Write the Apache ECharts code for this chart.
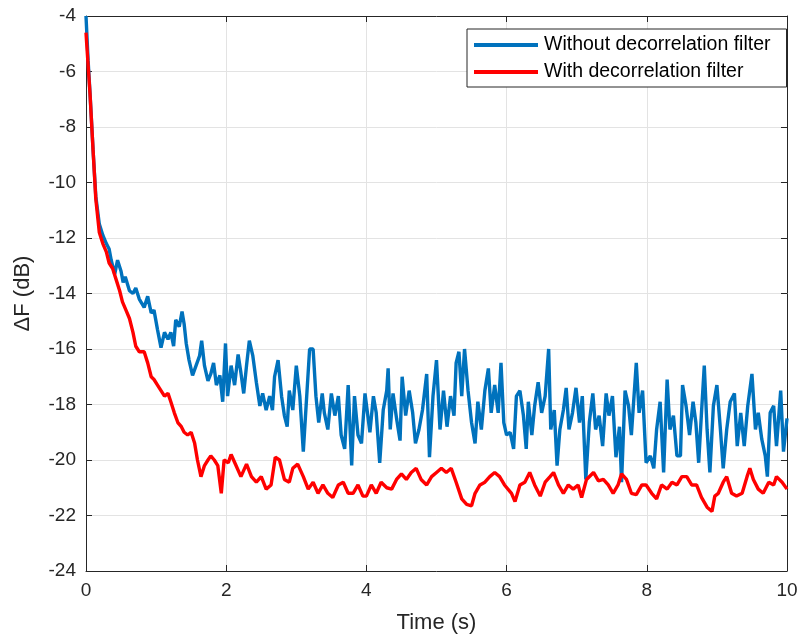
<!DOCTYPE html>
<html>
<head>
<meta charset="utf-8">
<script src="https://cdn.jsdelivr.net/npm/echarts@6/dist/echarts.min.js"></script>
<style>
html,body{margin:0;padding:0;background:#fff;}
#chart{width:802px;height:639px;}
</style>
</head>
<body>
<div id="chart"></div>
<script>
var seriesNames = ['Without decorrelation filter', 'With decorrelation filter'];
var xTicks = [0, 2, 4, 6, 8, 10];
var yTicks = [-24, -22, -20, -18, -16, -14, -12, -10, -8, -6, -4];

var blueT = [0,0.03,0.06,0.1,0.14,0.19,0.24,0.29,0.33,0.36,0.41,0.45,0.5,0.53,0.56,0.62,0.67,0.71,0.76,0.83,0.88,0.93,0.97,1.02,1.07,1.12,1.17,1.21,1.25,1.28,1.33,1.37,1.40,1.43,1.47,1.52,1.57,1.62,1.65,1.69,1.74,1.78,1.82,1.86,1.91,1.95,1.99,
2.02,2.07,2.12,2.17,2.21,2.25,2.29,2.33,2.38,2.43,2.48,2.52,2.57,2.62,2.66,2.69,2.74,2.79,2.83,2.87,2.9,2.95,3.0,3.05,3.1,3.14,3.19,3.24,3.28,3.32,3.37,3.40,3.45,3.5,3.55,3.6,3.64,3.69,3.74,3.79,3.83,3.88,3.93,3.98,
4.05,4.1,4.14,4.19,4.24,4.29,4.31,4.34,4.38,4.43,4.48,4.51,4.56,4.61,4.66,4.70,4.75,4.8,4.86,4.9,4.95,5.0,5.05,5.1,5.15,5.2,5.25,5.28,5.32,5.36,5.4,5.45,5.5,5.55,5.59,5.64,5.69,5.74,5.78,5.83,5.88,5.92,5.96,6.0,
6.05,6.1,6.14,6.19,6.24,6.28,6.31,6.36,6.4,6.45,6.5,6.55,6.6,6.63,6.68,6.72,6.76,6.81,6.85,6.89,6.94,6.99,7.04,7.08,7.13,7.18,7.23,7.27,7.32,7.37,7.42,7.46,7.51,7.56,7.61,7.64,7.69,7.74,7.78,7.85,7.89,7.94,7.99,
8.05,8.1,8.14,8.19,8.24,8.29,8.33,8.38,8.43,8.48,8.51,8.56,8.61,8.66,8.7,8.74,8.78,8.82,8.86,8.9,8.95,9.0,9.05,9.09,9.14,9.19,9.25,9.29,9.34,9.39,9.44,9.5,9.55,9.59,9.64,9.69,9.72,9.76,9.81,9.85,9.91,9.95,10.0];
var blueV = [-4.0,-5.6,-6.9,-8.8,-10.5,-11.5,-11.9,-12.2,-12.4,-12.8,-13.3,-12.8,-13.2,-13.6,-13.4,-13.9,-14.0,-13.8,-14.2,-14.5,-14.1,-14.7,-14.6,-15.3,-15.95,-15.4,-15.65,-15.4,-15.9,-14.95,-15.2,-14.65,-15.1,-15.8,-16.4,-16.95,-16.6,-16.25,-15.7,-16.6,-17.15,-16.9,-16.5,-17.3,-16.95,-17.9,-15.8,
-17.7,-16.6,-17.3,-16.2,-16.86,-17.6,-16.6,-15.7,-16.25,-17.2,-18.05,-17.6,-18.2,-17.7,-18.2,-17.0,-16.4,-17.7,-18.4,-18.8,-17.5,-18.2,-16.6,-17.7,-19.7,-18.05,-16.0,-16.0,-17.7,-18.65,-17.6,-18.3,-18.9,-17.6,-18.4,-17.7,-19.1,-19.6,-17.3,-20.2,-17.7,-19.1,-19.4,-17.6,
-19.0,-17.7,-18.3,-20.1,-18.2,-17.5,-16.7,-18.9,-17.6,-18.5,-19.3,-17.0,-18.4,-17.5,-18.3,-19.4,-18.9,-18.2,-16.9,-19.9,-17.7,-16.4,-18.9,-17.5,-18.8,-17.7,-18.4,-16.5,-16.1,-17.7,-16.0,-17.5,-18.65,-19.4,-17.9,-18.9,-17.5,-16.7,-18.3,-17.3,-18.3,-16.5,-18.65,-19.1,
-19.0,-19.6,-17.7,-17.5,-18.4,-19.6,-17.9,-19.1,-18.05,-17.2,-18.3,-17.7,-16.0,-18.9,-18.2,-20.2,-18.9,-18.2,-17.4,-18.9,-18.3,-17.4,-18.65,-17.7,-20.7,-18.65,-17.6,-18.9,-18.4,-19.5,-17.6,-18.4,-17.7,-19.9,-18.8,-20.8,-17.5,-18.05,-19.1,-16.5,-18.3,-17.5,-20.1,
-19.85,-20.3,-18.9,-17.9,-20.45,-17.1,-18.9,-18.4,-19.85,-19.85,-17.3,-18.05,-19.1,-17.9,-18.65,-20.1,-18.3,-16.6,-18.9,-20.45,-18.05,-17.3,-18.9,-20.3,-18.9,-17.9,-17.6,-19.5,-18.3,-19.5,-18.05,-16.9,-18.9,-18.3,-19.25,-19.85,-20.6,-18.3,-18.05,-19.5,-17.5,-19.7,-18.5];

var redT = [0,0.01,0.057,0.1,0.14,0.19,0.24,0.29,0.33,0.38,0.43,0.48,0.52,0.57,0.62,0.67,0.71,0.76,0.83,0.88,0.93,0.97,1.02,1.07,1.12,1.17,1.21,1.26,1.31,1.36,1.40,1.45,1.50,1.55,1.59,1.64,1.69,1.74,1.78,1.83,1.88,1.93,1.97,
2.03,2.07,2.14,2.21,2.29,2.36,2.43,2.5,2.57,2.64,2.7,2.76,2.83,2.9,2.95,3.02,3.1,3.17,3.24,3.31,3.38,3.45,3.52,3.6,3.67,3.74,3.81,3.88,3.95,
4.0,4.07,4.14,4.21,4.29,4.36,4.43,4.5,4.57,4.64,4.71,4.78,4.86,4.93,5.0,5.07,5.14,5.21,5.28,5.36,5.43,5.5,5.55,5.62,5.69,5.76,5.83,5.9,5.97,
6.07,6.12,6.19,6.26,6.33,6.4,6.48,6.55,6.62,6.67,6.74,6.81,6.88,6.95,7.02,7.07,7.14,7.24,7.31,7.38,7.45,7.52,7.59,7.64,7.71,7.78,7.85,7.93,7.99,
8.07,8.14,8.21,8.29,8.36,8.43,8.5,8.57,8.64,8.71,8.78,8.86,8.93,8.97,9.02,9.09,9.14,9.21,9.28,9.36,9.43,9.47,9.52,9.59,9.66,9.74,9.81,9.85,9.93,10.0];
var redV = [-4.6,-5.0,-6.8,-8.8,-10.6,-11.8,-12.2,-12.5,-12.9,-13.1,-13.5,-13.9,-14.3,-14.6,-14.9,-15.4,-15.9,-16.1,-16.1,-16.5,-17.0,-17.1,-17.3,-17.5,-17.7,-17.6,-17.9,-18.3,-18.65,-18.8,-19.0,-19.1,-19.0,-19.4,-20.0,-20.6,-20.2,-20.0,-19.85,-20.0,-20.2,-21.2,-20.0,
-20.1,-19.8,-20.2,-20.6,-20.15,-20.6,-20.8,-20.6,-21.05,-20.9,-19.9,-20.0,-20.7,-20.8,-20.3,-20.15,-20.6,-21.05,-20.8,-21.2,-20.9,-21.2,-21.35,-20.9,-20.8,-21.2,-21.2,-20.9,-21.3,
-21.3,-20.9,-21.2,-20.8,-21.0,-21.05,-20.7,-20.5,-20.7,-20.45,-20.3,-20.7,-20.9,-20.6,-20.45,-20.3,-20.45,-20.3,-20.8,-21.4,-21.6,-21.65,-21.2,-20.9,-20.8,-20.6,-20.45,-20.6,-20.9,
-21.2,-21.5,-20.9,-20.8,-20.45,-20.9,-21.3,-20.8,-20.6,-20.45,-20.9,-21.2,-20.9,-21.05,-20.9,-21.35,-20.7,-20.45,-20.75,-20.7,-20.9,-21.2,-20.9,-20.5,-20.7,-21.2,-21.25,-20.9,-20.9,
-21.2,-21.4,-20.9,-21.05,-20.8,-20.9,-20.6,-20.6,-20.9,-20.9,-21.35,-21.7,-21.85,-21.3,-21.2,-20.8,-20.6,-21.2,-21.3,-21.2,-20.6,-20.3,-20.7,-21.05,-21.2,-20.8,-20.9,-20.6,-20.8,-21.05];

function pairs(t, v) { return t.map(function (x, i) { return [x, v[i]]; }); }

var FONT = 'Arial, "Liberation Sans", sans-serif';
var TXT = '#262626';
var chart = echarts.init(document.getElementById('chart'), null, { renderer: 'canvas' });
var axisCommon = {
  type: 'value',
  axisLine: { show: true, onZero: false, lineStyle: { color: TXT, width: 1 } },
  axisTick: { show: true, inside: true, length: 6, lineStyle: { color: TXT } },
  splitLine: { show: false },
  axisLabel: { show: false }
};
chart.setOption({
  animation: false,
  backgroundColor: '#ffffff',
  grid: { left: 86, right: 15, top: 16, bottom: 67, containLabel: false },
  legend: {
    orient: 'vertical',
    left: 467, top: 29,
    padding: [6, 16, 5, 7],
    itemGap: 7,
    itemWidth: 64, itemHeight: 4,
    backgroundColor: '#ffffff',
    borderColor: TXT, borderWidth: 1, borderRadius: 0,
    textStyle: { fontFamily: FONT, fontSize: 19.5, color: '#000', lineHeight: 20, padding: [0, 0, 0, 1] },
    data: [
      { name: seriesNames[0], icon: 'rect' },
      { name: seriesNames[1], icon: 'rect' }
    ]
  },
  xAxis: [
    Object.assign({}, axisCommon, {
      min: xTicks[0], max: xTicks[xTicks.length - 1], interval: 2,
      position: 'bottom',
      name: 'Time (s)', nameLocation: 'middle', nameGap: 41,
      nameTextStyle: { fontFamily: FONT, fontSize: 22, color: TXT },
      axisLabel: { show: true, margin: 10, fontFamily: FONT, fontSize: 19, color: TXT },
      splitLine: { show: true, lineStyle: { color: '#e3e3e3', width: 1 } }
    }),
    Object.assign({}, axisCommon, {
      min: xTicks[0], max: xTicks[xTicks.length - 1], interval: 2, position: 'top'
    })
  ],
  yAxis: [
    Object.assign({}, axisCommon, {
      min: yTicks[0], max: yTicks[yTicks.length - 1], interval: 2,
      position: 'left',
      name: 'ΔF (dB)', nameLocation: 'middle', nameGap: 52, nameRotate: 90,
      nameTextStyle: { fontFamily: FONT, fontSize: 22, color: TXT },
      axisLabel: { show: true, margin: 10, fontFamily: FONT, fontSize: 19, color: TXT },
      splitLine: { show: true, lineStyle: { color: '#e3e3e3', width: 1 } }
    }),
    Object.assign({}, axisCommon, {
      min: yTicks[0], max: yTicks[yTicks.length - 1], interval: 2, position: 'right'
    })
  ],
  series: [
    {
      name: seriesNames[0], type: 'line', data: pairs(blueT, blueV),
      xAxisIndex: 0, yAxisIndex: 0,
      showSymbol: false, symbol: 'none',
      lineStyle: { color: '#0072BD', width: 3.4 }, itemStyle: { color: '#0072BD' }
    },
    {
      name: seriesNames[1], type: 'line', data: pairs(redT, redV),
      xAxisIndex: 0, yAxisIndex: 0,
      showSymbol: false, symbol: 'none',
      lineStyle: { color: '#FF0000', width: 3.4 }, itemStyle: { color: '#FF0000' }
    }
  ]
});
</script>
</body>
</html>
